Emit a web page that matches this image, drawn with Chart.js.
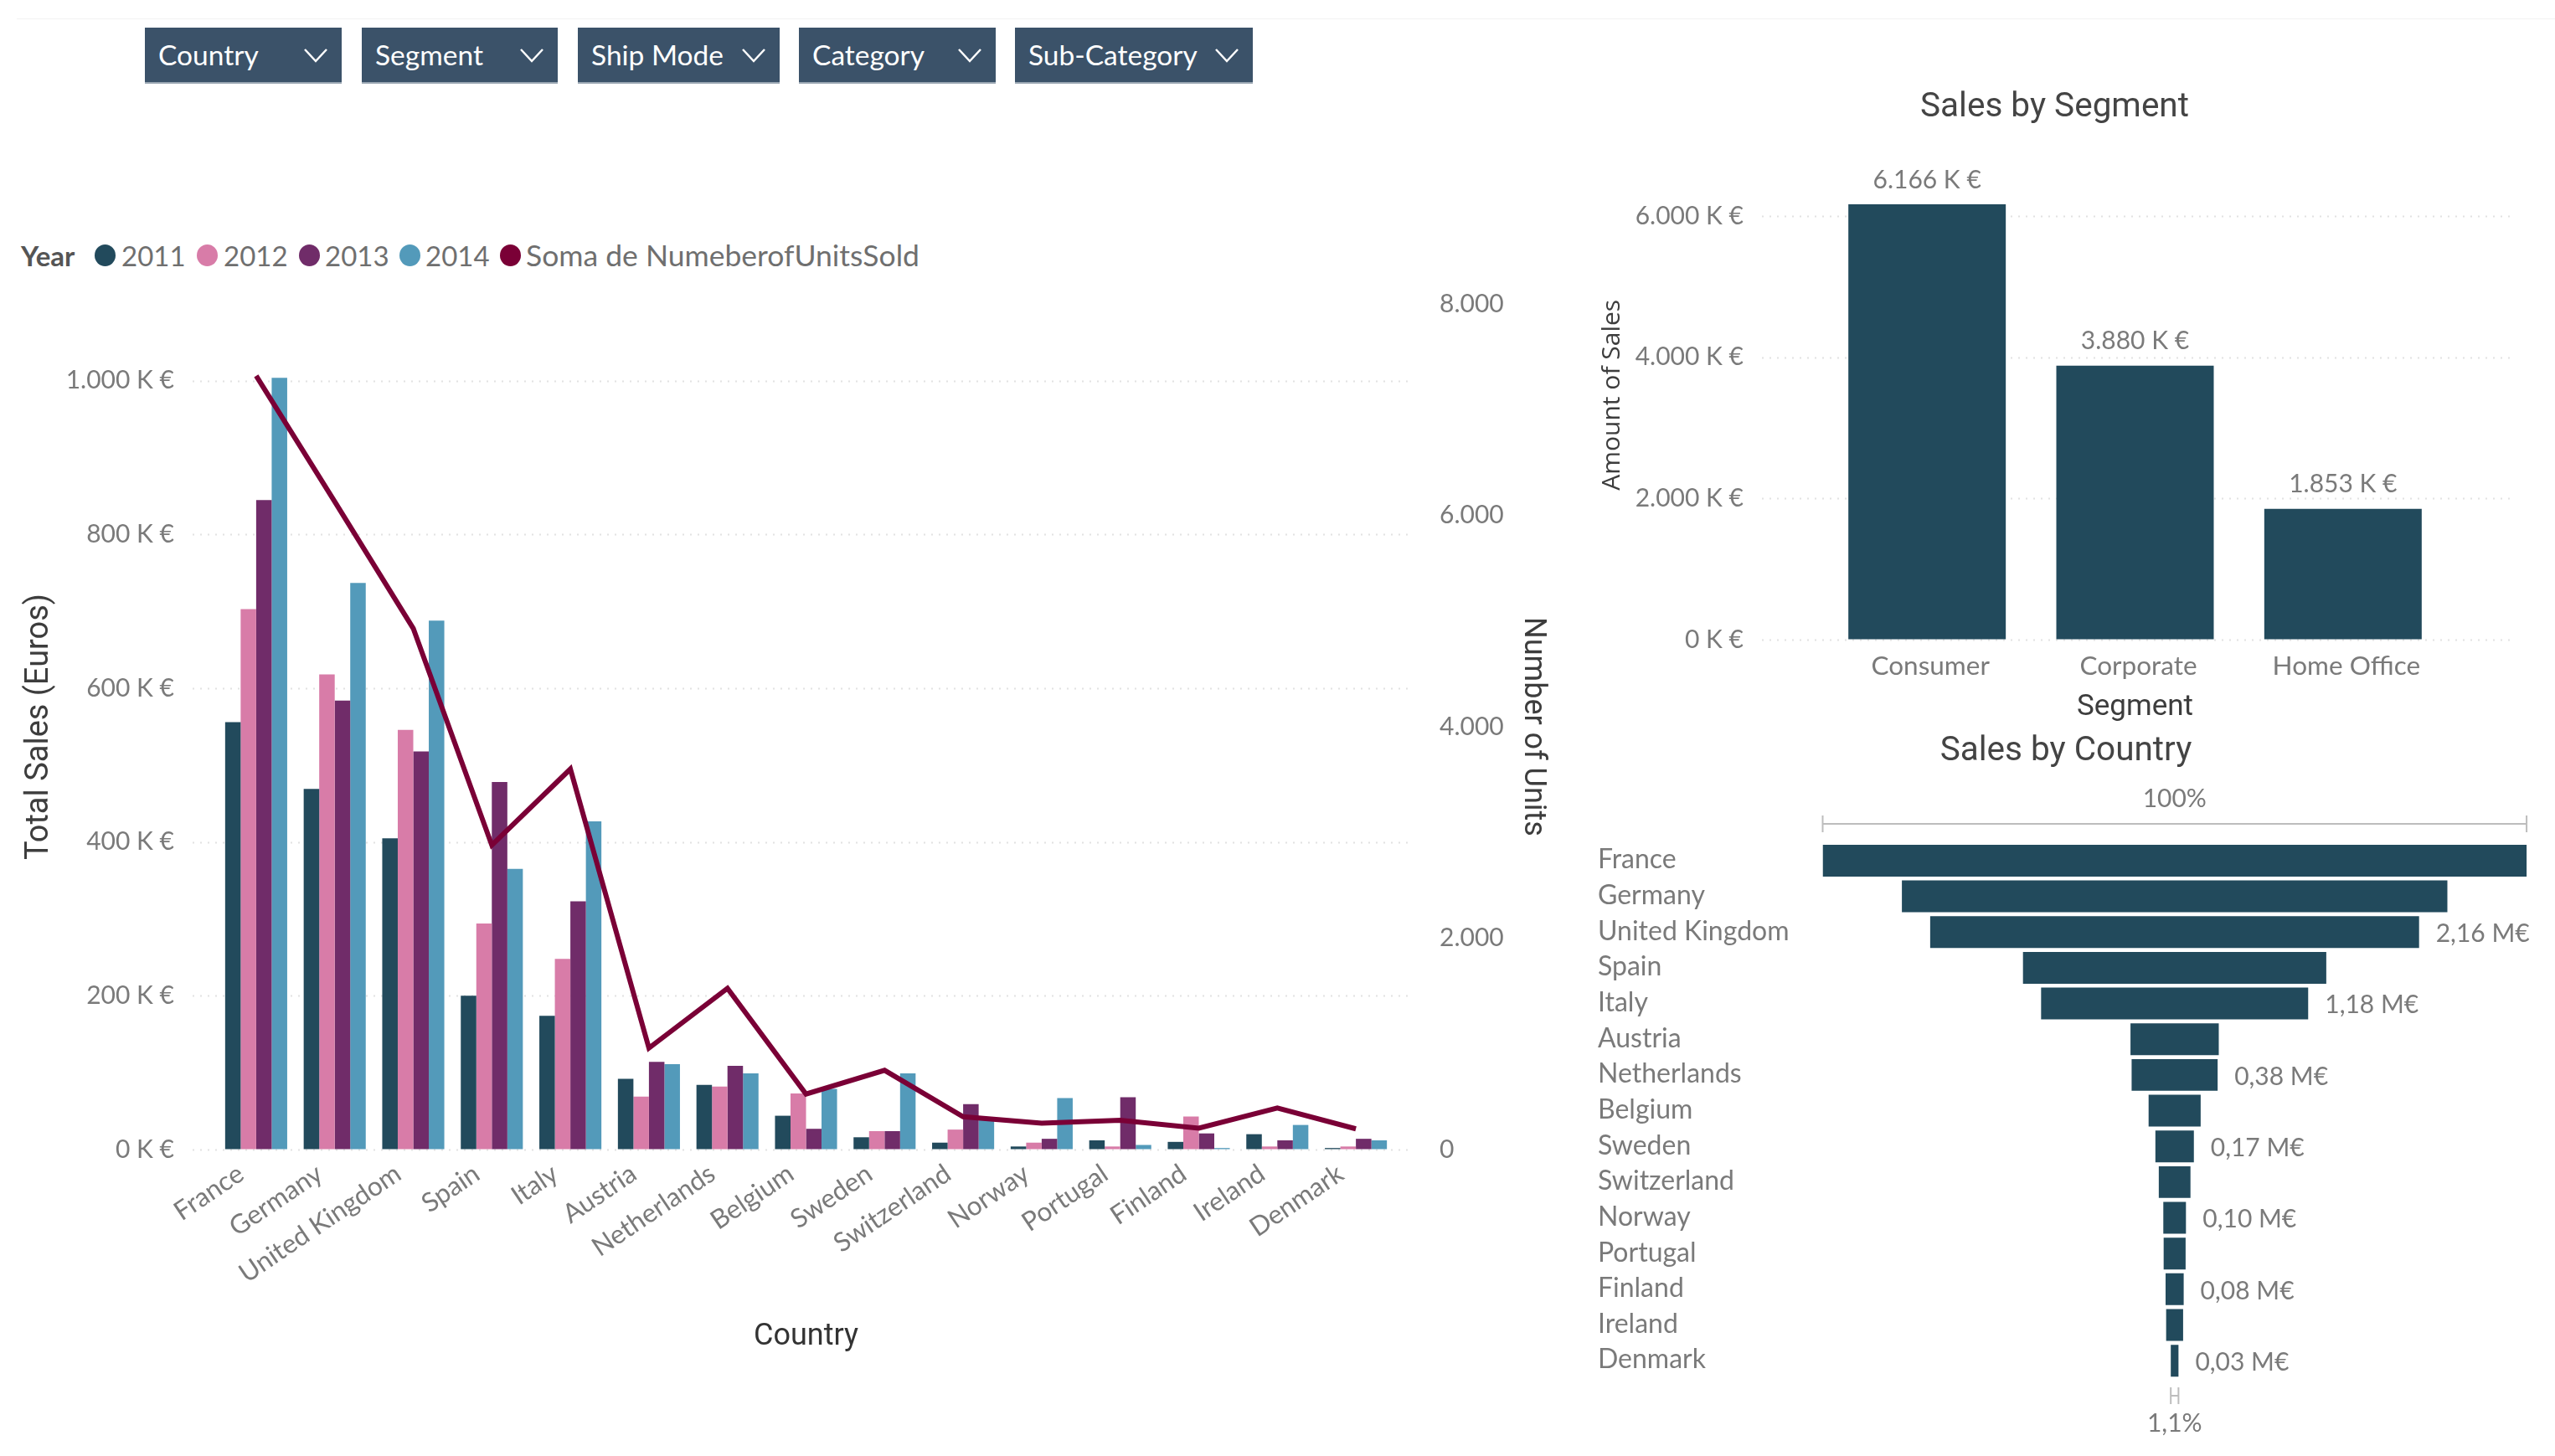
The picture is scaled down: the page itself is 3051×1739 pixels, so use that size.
<!DOCTYPE html>
<html><head><meta charset="utf-8">
<script src="https://cdn.jsdelivr.net/npm/chart.js@4"></script>
<style>
html,body{margin:0;padding:0;background:#fff;width:3051px;height:1739px;overflow:hidden;font-family:Lato,sans-serif}
canvas{position:absolute}
.btn{position:absolute;top:33px;height:67px;background:#3b5269;color:#fff;font:33.5px/65px Lato,sans-serif;box-sizing:border-box;padding-left:16px;border-bottom:2px solid #9aa7b3;white-space:nowrap}
.btn svg{position:absolute;top:24px;right:16px}
.lg{position:absolute;top:286px;font:33px/38px Lato,sans-serif;color:#6f6f6f;white-space:nowrap}
.dot{position:absolute;top:292px;width:25px;height:26px;border-radius:50%}
#rule{position:absolute;left:20px;right:0;top:22px;height:1px;background:#f2f2f2}
</style></head><body>
<div id="rule"></div>
<div id="filters"></div><div id="legend"></div>
<canvas id="main" width="1880" height="1280" style="left:0;top:340px"></canvas>
<canvas id="seg" width="1147" height="770" style="left:1880px;top:100px"></canvas>
<canvas id="fun" width="1168" height="889" style="left:1883px;top:850px"></canvas>
<script>
const filterNames=['Country','Segment','Ship Mode','Category','Sub-Category'];
const countries=['France','Germany','United Kingdom','Spain','Italy','Austria','Netherlands','Belgium','Sweden','Switzerland','Norway','Portugal','Finland','Ireland','Denmark'];
const sales2011=[556,469,405,200,174,92,84,44,16,9,4,12,10,20,2];
const sales2012=[703,618,546,294,248,69,82,73,24,26,9,4,43,4,4];
const sales2013=[845,584,518,478,323,114,109,27,24,59,14,68,21,12,14];
const sales2014=[1004,737,688,365,427,111,99,79,99,39,67,6,2,32,12];
const unitsSold=[7320,6130,4930,2880,3600,960,1525,525,750,310,250,277,203,393,196];
const yearColors=['#224a5c','#d87ca8','#702c69','#539aba'];
const years=['2011','2012','2013','2014'];
const unitsName='Soma de NumeberofUnitsSold';
const lineColor='#7a0036';
const salesTicks=[0,200,400,600,800,1000];
const unitTicks=[0,2000,4000,6000,8000];
const segments=['Consumer','Corporate','Home Office'];
const segmentSales=[6166,3880,1853];
const segmentTicks=[0,2000,4000,6000];
const funnelValues=[3.11,2.41,2.16,1.34,1.18,0.39,0.38,0.23,0.17,0.14,0.10,0.097,0.08,0.075,0.034];
const funnelLabels=[null,null,'2,16 M€',null,'1,18 M€',null,'0,38 M€',null,'0,17 M€',null,'0,10 M€',null,'0,08 M€',null,'0,03 M€'];
const dark='#224a5c', gray='#7a7a7a', titleCol='#444444';

Chart.defaults.devicePixelRatio=1;
Chart.defaults.animation=false;
Chart.defaults.responsive=false;
Chart.defaults.font.family='Lato';

const btnBoxes=[[173,235],[432,234],[690,241],[954,235],[1212,284]];
filterNames.forEach((n,i)=>{const d=document.createElement('div');d.className='btn';d.style.left=btnBoxes[i][0]+'px';d.style.width=btnBoxes[i][1]+'px';
 d.innerHTML=n+'<svg width="30" height="18" viewBox="0 0 30 18"><path d="M2 2 L15 16 L28 2" fill="none" stroke="#fff" stroke-width="2.5"/></svg>';
 document.getElementById('filters').appendChild(d);});
(function(){const L=document.getElementById('legend');
 const add=(txt,x,bold,size)=>{const d=document.createElement('div');d.className='lg';d.style.left=x+'px';d.textContent=txt;if(size)d.style.fontSize=size+'px';if(bold){d.style.fontWeight='700';d.style.color='#555';}L.appendChild(d);};
 const dot=(c,x)=>{const d=document.createElement('div');d.className='dot';d.style.left=x+'px';d.style.background=c;L.appendChild(d);};
 add('Year',25,true);
 const dx=[113,235,357,477],tx=[145,267,388,508];
 years.forEach((y,i)=>{dot(yearColors[i],dx[i]);add(y,tx[i]);});
 dot(lineColor,597);add(unitsName,628,false,35.5);
})();

function dottedGrid(id,scaleId,x0,x1){return {id:id,beforeDatasetsDraw(c){const s=c.scales[scaleId],g=c.ctx;g.save();g.strokeStyle='#e2e2e2';g.lineWidth=2;g.setLineDash([2,7]);
 s.ticks.forEach(t=>{const y=Math.round(s.getPixelForValue(t.value))+0.5;g.beginPath();g.moveTo(x0,y);g.lineTo(x1,y);g.stroke();});g.restore();}};}
const fmtK=v=>v.toLocaleString('de-DE')+' K €';
const tickFont={family:'Lato',size:30};
const catFont={family:'Lato',size:31.5};
const axisFont=s=>({family:'Roboto',size:s,weight:'400'});
const hiddenGrid=len=>({display:true,drawOnChartArea:false,drawTicks:true,tickLength:len,color:'rgba(0,0,0,0)'});
const fixedTicks=list=>(s=>{s.ticks=list.map(v=>({value:v}));});

new Chart(document.getElementById('main'),{
 type:'bar',
 data:{labels:countries,datasets:[
  {type:'line',label:unitsName,data:unitsSold,yAxisID:'y1',borderColor:lineColor,backgroundColor:lineColor,borderWidth:6,pointRadius:0,tension:0,order:0,borderJoinStyle:'miter'},
  {label:years[0],data:sales2011,backgroundColor:yearColors[0],yAxisID:'y',order:1},
  {label:years[1],data:sales2012,backgroundColor:yearColors[1],yAxisID:'y',order:1},
  {label:years[2],data:sales2013,backgroundColor:yearColors[2],yAxisID:'y',order:1},
  {label:years[3],data:sales2014,backgroundColor:yearColors[3],yAxisID:'y',order:1}]},
 options:{
  layout:{padding:{top:23,left:0,right:0,bottom:0}},
  datasets:{bar:{barPercentage:1,categoryPercentage:0.79}},
  plugins:{legend:{display:false},tooltip:{enabled:false}},
  scales:{
   x:{grid:{display:false,drawTicks:false},border:{display:false},
      ticks:{autoSkip:false,minRotation:34,maxRotation:34,padding:10,labelOffset:-18,color:gray,font:catFont},
      title:{display:true,text:'Country',color:'#333',font:axisFont(36),padding:{top:0,bottom:1}},
      afterFit:s=>{s.height=247;}},
   y:{position:'left',min:0,max:1100,grid:hiddenGrid(51),border:{display:false},afterBuildTicks:fixedTicks(salesTicks),
      ticks:{padding:0,color:gray,font:tickFont,callback:v=>fmtK(v)},
      title:{display:true,text:'Total Sales (Euros)',color:'#3d3d3d',font:axisFont(38),padding:{top:25,bottom:0}},
      afterFit:s=>{s.width=259;}},
   y1:{position:'right',min:0,max:8000,grid:hiddenGrid(53),border:{display:false},afterBuildTicks:fixedTicks(unitTicks),
      ticks:{padding:0,color:gray,font:tickFont,callback:v=>v.toLocaleString('de-DE')},
      title:{display:true,text:'Number of Units',color:'#3d3d3d',font:axisFont(36),padding:{top:28,bottom:0}},
      afterFit:s=>{s.width=214;}}
  }},
 plugins:[dottedGrid('g1','y',230,1686)]
});

new Chart(document.getElementById('seg'),{
 type:'bar',
 data:{labels:segments,datasets:[{label:'Amount of Sales',data:segmentSales,backgroundColor:dark}]},
 options:{
  layout:{padding:0},
  datasets:{bar:{barPercentage:1,categoryPercentage:0.757}},
  plugins:{legend:{display:false},tooltip:{enabled:false},
   title:{display:true,text:'Sales by Segment',color:titleCol,font:axisFont(40.5),padding:{top:5,bottom:26}}},
  scales:{
   x:{grid:{display:false,drawTicks:false},border:{display:false},
      ticks:{padding:13,labelOffset:4,color:gray,font:catFont},
      title:{display:true,text:'Segment',color:'#3d3d3d',font:axisFont(35),padding:{top:0,bottom:4}},
      afterFit:s=>{s.height=106;}},
   y:{min:0,max:6930,grid:hiddenGrid(95),border:{display:false},afterBuildTicks:fixedTicks(segmentTicks),
      ticks:{padding:0,color:gray,font:tickFont,callback:v=>fmtK(v)},
      title:{display:true,text:'Amount of Sales',color:'#3d3d3d',font:{family:'Open Sans',size:30},padding:{top:27,bottom:0}},
      afterFit:s=>{s.width=297;}},
   spacer:{position:'right',display:true,grid:{display:false,drawTicks:false},border:{display:false},ticks:{display:false},afterFit:s=>{s.width=105;}}
  }},
 plugins:[dottedGrid('g2','y',2104-1880,3000-1880),{id:'segLabels',afterDatasetsDraw(c){const g=c.ctx;g.save();g.font='30px Lato';g.fillStyle=gray;g.textAlign='center';g.textBaseline='middle';
   c.getDatasetMeta(0).data.forEach((b,i)=>g.fillText(fmtK(segmentSales[i]),b.x,b.y-29));g.restore();}}]
});

new Chart(document.getElementById('fun'),{
 type:'bar',
 data:{labels:countries,datasets:[{label:'Sales',data:funnelValues.map(v=>[-v/2,v/2]),backgroundColor:dark}]},
 options:{
  indexAxis:'y',
  layout:{padding:{left:25,right:25,top:0,bottom:92.5}},
  datasets:{bar:{barPercentage:1,categoryPercentage:0.89}},
  plugins:{legend:{display:false},tooltip:{enabled:false},
   title:{display:true,text:'Sales by Country',color:titleCol,font:axisFont(40.5),padding:{top:24,bottom:84}}},
  scales:{
   x:{display:false,min:-funnelValues[0]/2,max:funnelValues[0]/2+0.033},
   y:{grid:{display:false,drawTicks:false},border:{display:false},
      ticks:{crossAlign:'far',autoSkip:false,padding:0,labelOffset:-1,color:gray,font:{family:'Lato',size:32}},
      afterFit:s=>{s.width=268.5;}}
  }},
 plugins:[{id:'funLabels',afterDatasetsDraw(c){const g=c.ctx,bars=c.getDatasetMeta(0).data;g.save();g.font='30px Lato';g.fillStyle=gray;g.textBaseline='middle';
   bars.forEach((b,i)=>{if(funnelLabels[i])g.fillText(funnelLabels[i],b.x+20,b.y+2);});
   const f=bars[0],l=bars[bars.length-1],cx=c.scales.x.getPixelForValue(0);
   g.textAlign='center';g.fillText('100%',cx,954-850);
   g.strokeStyle='#bdbdbd';g.lineWidth=2;
   const bracket=(x0,x1,y)=>{g.beginPath();g.moveTo(x0,y-10);g.lineTo(x0,y+10);g.moveTo(x1,y-10);g.lineTo(x1,y+10);g.moveTo(x0,y);g.lineTo(x1,y);g.stroke();};
   bracket(f.base,f.x,984-850);bracket(l.base,l.x,1667-850);
   g.fillText('1,1%',cx,1700-850);g.restore();}}]
});
</script></body></html>
